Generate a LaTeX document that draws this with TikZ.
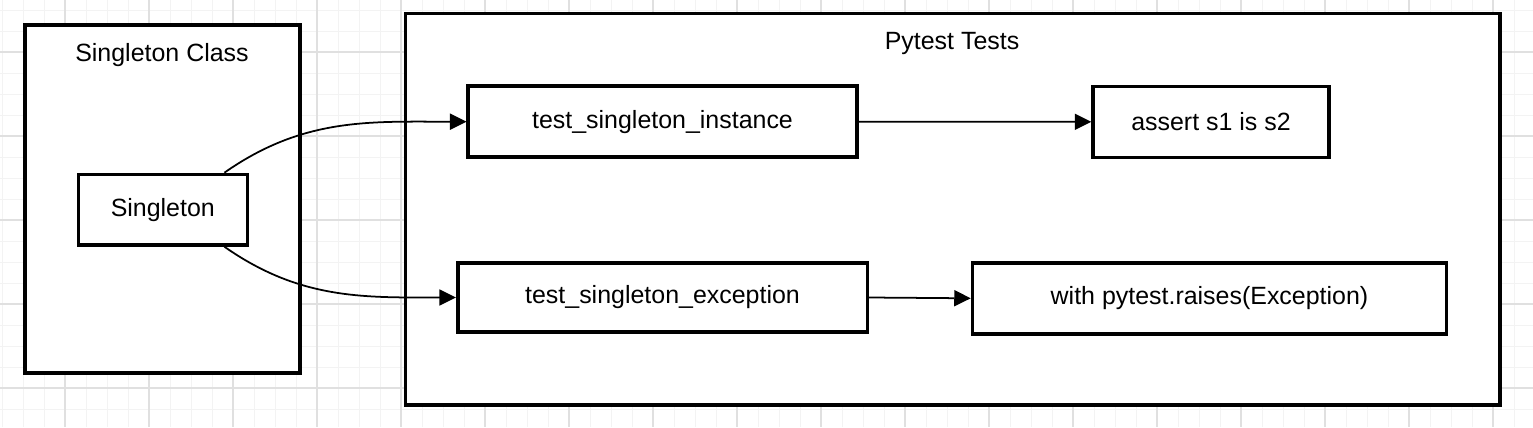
\documentclass[tikz,border=0pt]{standalone}
\usepackage{fontspec}
\setmainfont{Liberation Sans}
\usetikzlibrary{arrows.meta}
\definecolor{gridmajor}{HTML}{E0E0E0}
\definecolor{gridminor}{HTML}{F3F3F3}
\tikzset{
  frame/.style={draw, fill=white, line width=2pt, inner sep=0pt},
  testbox/.style={draw, fill=white, line width=2pt, minimum height=1.42cm, inner sep=0pt},
  flow/.style={line width=1pt, -{Triangle[length=0.33cm,width=0.32cm]}},
  minorline/.style={gridminor, line width=0.5pt},
  majorline/.style={gridmajor, line width=0.6pt}
}
\begin{document}
\begin{tikzpicture}[every node/.style={font=\fontsize{14.2pt}{17pt}\selectfont}]
\useasboundingbox (0,0) rectangle (30.66,8.54);
\fill[white] (0,0) rectangle (30.66,8.54);
% background grid
\foreach \i in {0,...,72} \draw[minorline] ({0.04+0.42*\i},0) -- ({0.04+0.42*\i},8.54);
\foreach \j in {0,...,19} \draw[minorline] (0,{8.34-0.42*\j}) -- (30.66,{8.34-0.42*\j});
\foreach \i in {0,...,17} \draw[majorline] ({1.3+1.68*\i},0) -- ({1.3+1.68*\i},8.54);
\foreach \j in {0,...,4} \draw[majorline] (0,{7.5-1.68*\j}) -- (30.66,{7.5-1.68*\j});
% containers
\node[frame, minimum width=5.5cm, minimum height=6.96cm] (classbox) at (3.25,4.56) {};
\node (classtitle) at (3.24,7.43) {Singleton Class};
\node[frame, minimum width=21.89cm, minimum height=7.834cm] (testsbox) at (19.055,4.357) {};
\node (teststitle) at (19.04,7.67) {Pytest Tests};
% boxes
\node[testbox, minimum width=3.38cm, minimum height=1.41cm] (singleton) at (3.256,4.346) {Singleton};
\node[testbox, minimum width=7.77cm] (instance) at (13.25,6.106) {test\_singleton\_instance};
\node[testbox, minimum width=8.19cm, minimum height=1.39cm] (exception) at (13.25,2.59) {test\_singleton\_exception};
\node[testbox, minimum width=4.72cm] (assert) at (24.22,6.104) {assert s1 is s2};
\node[testbox, minimum width=9.48cm] (raises) at (24.19,2.574) {with pytest.raises(Exception)};
% arrows
\draw[flow] (singleton.31) to[out=35, in=180] (instance.west);
\draw[flow] (singleton.-31) to[out=-35, in=180] (exception.west);
\draw[flow] (instance.east) -- (assert.west);
\draw[flow] (exception.east) -- (raises.west);
\end{tikzpicture}
\end{document}
